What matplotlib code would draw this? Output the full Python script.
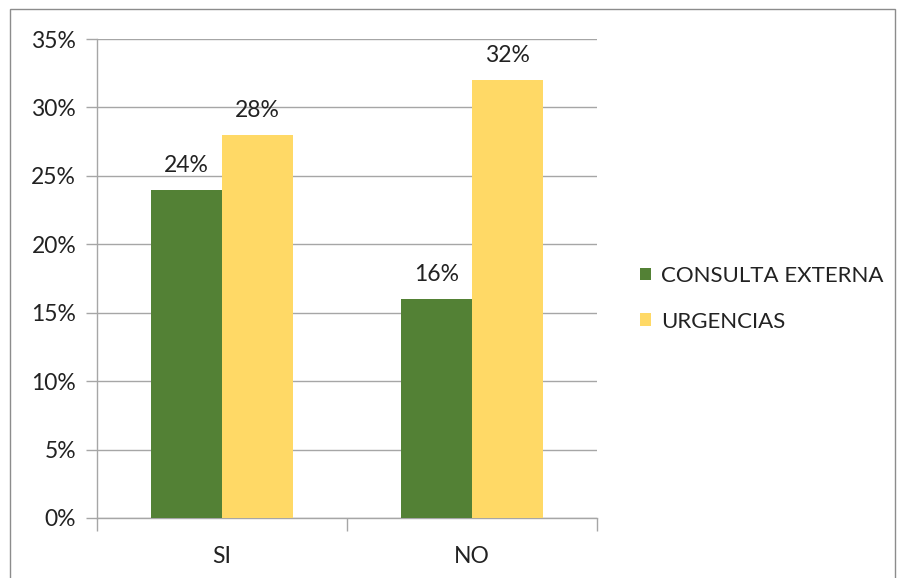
import matplotlib
matplotlib.use("Agg")
import matplotlib.pyplot as plt
from matplotlib.patches import Rectangle, Patch
from matplotlib.ticker import FuncFormatter, MultipleLocator
import numpy as np

categories = ["SI", "NO"]
series_names = ["CONSULTA EXTERNA", "URGENCIAS"]
consulta = [24, 16]
urgencias = [28, 32]
colors = ["#538135", "#FFD966"]

plt.rcParams['font.family'] = ['Lato', 'DejaVu Sans']
fig = plt.figure(figsize=(8.98, 5.78), dpi=100)
ax = fig.add_axes([97/898, 60/578, 500/898, 479/578])

x = np.arange(len(categories))
w = 0.285
for vals, off, col in [(consulta, -w/2, colors[0]), (urgencias, w/2, colors[1])]:
    bars = ax.bar(x + off, vals, width=w, color=col, zorder=3)
    for b, v in zip(bars, vals):
        ax.annotate(f"{v}%", (b.get_x() + b.get_width()/2, v), xytext=(0, 10),
                    textcoords="offset points", ha="center", va="bottom",
                    fontsize=16.5, color="#222222")

ax.set_xlim(-0.5, 1.5)
ax.set_ylim(0, 35)
ax.yaxis.set_major_locator(MultipleLocator(5))
ax.yaxis.set_major_formatter(FuncFormatter(lambda v, p: f"{int(v)}%"))
ax.grid(axis="y", color="#A6A6A6", linewidth=1, zorder=0)
ax.set_xticks([-0.5, 0.5, 1.5])
ax.set_xticklabels([])
ax.set_xticks(x, minor=True)
ax.set_xticklabels(categories, minor=True)
ax.tick_params(axis="x", which="minor", length=0, pad=20, labelsize=16.5, labelcolor="#222222")
ax.tick_params(axis="x", which="major", length=9, color="#A6A6A6", width=1)
ax.tick_params(axis="y", length=8, color="#A6A6A6", width=1, labelsize=16.5, labelcolor="#222222", pad=7)
for s in ["top", "right"]:
    ax.spines[s].set_visible(False)
for s in ["left", "bottom"]:
    ax.spines[s].set_color("#A6A6A6")
    ax.spines[s].set_linewidth(1)

handles = [Patch(facecolor=c, edgecolor="none") for c in colors]
fig.legend(handles, series_names, loc="upper left", bbox_to_anchor=(620/898, 1 - 246/578),
           frameon=False, fontsize=16, handlelength=0.5, handleheight=0.5,
           handletextpad=0.45, labelspacing=1.15, labelcolor="#222222")

fig.patches.append(Rectangle((10/898, -0.05), 885/898, 1.05 - 9/578, transform=fig.transFigure,
                             fill=False, edgecolor="#8C8C8C", linewidth=1))
fig.savefig("out.png", dpi=100)
